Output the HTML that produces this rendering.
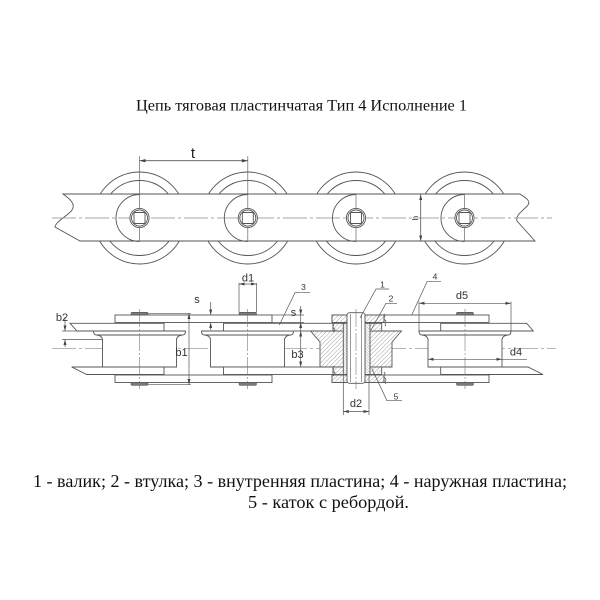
<!DOCTYPE html>
<html><head><meta charset="utf-8">
<style>html,body{margin:0;padding:0;background:#fff}svg{display:block}</style>
</head>
<body>
<svg width="600" height="600" viewBox="0 0 600 600" xmlns="http://www.w3.org/2000/svg">
<defs>
<pattern id="ha" patternUnits="userSpaceOnUse" width="3" height="3" patternTransform="rotate(45)"><rect width="3" height="3" fill="#fff"/><line x1="0" y1="0" x2="0" y2="3" stroke="#8a8a8a" stroke-width="0.8"/></pattern>
<pattern id="hb" patternUnits="userSpaceOnUse" width="2" height="2" patternTransform="rotate(-45)"><rect width="2" height="2" fill="#fff"/><line x1="0" y1="0" x2="0" y2="2" stroke="#8a8a8a" stroke-width="0.7"/></pattern>
</defs>
<rect width="600" height="600" fill="#fff"/>

<!-- Title -->
<text x="136" y="110.5" font-family="'Liberation Serif', 'Noto Serif CJK SC', serif" font-size="16" textLength="331" lengthAdjust="spacingAndGlyphs" fill="#111">Цепь тяговая пластинчатая Тип 4 Исполнение 1</text>

<!-- ============ TOP VIEW ============ -->
<g fill="none" stroke="#555" stroke-width="0.9">
  <circle cx="139.5" cy="218" r="46"/><circle cx="139.5" cy="218" r="37.5"/>
  <circle cx="247.8" cy="218" r="46"/><circle cx="247.8" cy="218" r="37.5"/>
  <circle cx="356" cy="218" r="46"/><circle cx="356" cy="218" r="37.5"/>
  <circle cx="464.5" cy="218" r="46"/><circle cx="464.5" cy="218" r="37.5"/>
  <path fill="#fff" d="M63,194 H520 C526,198 531,201 528,205 C524,210 515,215 517,221 L535,241 H80 L55,227 C56,221 69,215 72,210 C76,204 70,199 63,194 Z"/>
</g>
<line x1="52" y1="218" x2="552" y2="218" stroke="#8a8a8a" stroke-width="0.7" stroke-dasharray="24,3,3,3"/>
<g fill="none" stroke="#666" stroke-width="0.7">
  <line x1="139.5" y1="156" x2="139.5" y2="241"/>
  <line x1="247.8" y1="156" x2="247.8" y2="241"/>
  <line x1="356" y1="194" x2="356" y2="241"/>
  <line x1="464.5" y1="194" x2="464.5" y2="241"/>
</g>
<g fill="none" stroke="#555" stroke-width="0.9">
  <path d="M139.5,194.5 A23.5,23.5 0 0 0 139.5,241.5"/>
  <path d="M247.8,194.5 A23.5,23.5 0 0 0 247.8,241.5"/>
  <path d="M356,194.5 A23.5,23.5 0 0 0 356,241.5"/>
  <path d="M464.5,194.5 A23.5,23.5 0 0 0 464.5,241.5"/>
</g>
<g fill="#fff" stroke="#555" stroke-width="0.9">
  <circle cx="139.5" cy="218" r="9.6"/><circle cx="139.5" cy="218" r="8" fill="none"/><rect x="134" y="212.5" width="11" height="11" rx="1" fill="none"/>
  <circle cx="247.8" cy="218" r="9.6"/><circle cx="247.8" cy="218" r="8" fill="none"/><rect x="242.3" y="212.5" width="11" height="11" rx="1" fill="none"/>
  <circle cx="356" cy="218" r="9.6"/><circle cx="356" cy="218" r="8" fill="none"/><rect x="350.5" y="212.5" width="11" height="11" rx="1" fill="none"/>
  <circle cx="464.5" cy="218" r="9.6"/><circle cx="464.5" cy="218" r="8" fill="none"/><rect x="459" y="212.5" width="11" height="11" rx="1" fill="none"/>
</g>
<!-- t dimension -->
<line x1="139.5" y1="160.7" x2="247.8" y2="160.7" stroke="#555" stroke-width="0.8"/>
<polygon points="139.5,160.7 145.5,159 145.5,162.4" fill="#444"/>
<polygon points="247.8,160.7 241.8,159 241.8,162.4" fill="#444"/>
<text x="193" y="158" text-anchor="middle" font-family="'Liberation Sans', sans-serif" font-size="15" fill="#222">t</text>
<!-- h dimension -->
<line x1="420.7" y1="194.5" x2="420.7" y2="241" stroke="#555" stroke-width="0.8"/>
<polygon points="420.7,194.5 419.2,200 422.2,200" fill="#444"/>
<polygon points="420.7,241 419.2,235.5 422.2,235.5" fill="#444"/>
<text transform="translate(418,218) rotate(-90)" text-anchor="middle" font-family="'Liberation Sans', sans-serif" font-size="8" fill="#333">h</text>

<!-- ============ BOTTOM VIEW ============ -->
<line x1="52" y1="348.3" x2="556" y2="348.3" stroke="#8a8a8a" stroke-width="0.7" stroke-dasharray="24,3,3,3"/>

<g fill="#fff" stroke="#555" stroke-width="0.9">
  <path d="M93.5,331 H185.5 Q185.5,335 182.5,335 Q177.5,335.5 176.5,339 V367 H102.5 V339 Q101.5,335.5 96.5,335 Q93.5,335 93.5,331 Z"/>
  <line x1="96.5" y1="335" x2="182.5" y2="335"/>
  <path d="M201.5,331 H293.5 Q293.5,335 290.5,335 Q285.5,335.5 284.5,339 V367 H210.5 V339 Q209.5,335.5 204.5,335 Q201.5,335 201.5,331 Z"/>
  <line x1="204.5" y1="335" x2="290.5" y2="335"/>
  <path d="M419,331 H511 Q511,335 508,335 Q503,335.5 502,339 V367 H428 V339 Q427,335.5 422,335 Q419,335 419,331 Z"/>
  <line x1="422" y1="335" x2="508" y2="335"/>

  <path d="M70,323.3 H164 V331 H77 Z"/>
  <path d="M71.7,367 H164 V374.5 H86.7 Z"/>
  <rect x="223.5" y="323.3" width="109.5" height="7.7"/>
  <rect x="223.5" y="367" width="109.5" height="7.5"/>
  <path d="M440.7,323.3 H526.7 L533.3,331 H440.7 Z"/>
  <path d="M440.7,367 H528 L543,374.5 H440.7 Z"/>

  <rect x="115" y="315" width="157" height="7.5"/>
  <rect x="115" y="375" width="157" height="7.5"/>
  <rect x="332" y="315" width="157" height="7.5"/>
  <rect x="332" y="375" width="157" height="7.5"/>
</g>

<g stroke="#777" stroke-width="0.6" stroke-dasharray="18,2,2,2">
  <line x1="139.5" y1="309" x2="139.5" y2="389"/>
  <line x1="247.5" y1="309" x2="247.5" y2="389"/>
  <line x1="465" y1="309" x2="465" y2="389"/>
</g>

<g fill="#7a7a7a" stroke="#555" stroke-width="0.6">
  <rect x="131" y="312.3" width="17" height="2.8" rx="1.3"/>
  <rect x="131" y="382.5" width="17" height="2.8" rx="1.3"/>
  <rect x="239" y="312.3" width="17.5" height="2.8" rx="1.3"/>
  <rect x="239" y="382.5" width="17.5" height="2.8" rx="1.3"/>
  <rect x="456.5" y="312.3" width="17" height="2.8" rx="1.3"/>
  <rect x="456.5" y="382.5" width="17" height="2.8" rx="1.3"/>
</g>

<!-- Section at roller 3 -->
<g stroke="#555" stroke-width="0.9">
  <path fill="url(#ha)" d="M310.5,331 H401.5 L392,342 V367 H320 V342 Z"/>
  <rect x="332" y="315" width="52" height="7.5" fill="url(#ha)"/>
  <rect x="332" y="375" width="52" height="7.5" fill="url(#ha)"/>
  <rect x="333" y="323.3" width="48.7" height="7.7" fill="url(#ha)"/>
  <rect x="333" y="367" width="48.7" height="7.5" fill="url(#ha)"/>
  <rect x="343.3" y="323.3" width="3.7" height="51.2" fill="url(#hb)"/>
  <rect x="365" y="323.3" width="5" height="51.2" fill="url(#hb)"/>
  <rect x="347" y="312.7" width="18" height="70.6" rx="2.5" fill="#fff"/>
  <line x1="350.3" y1="314" x2="350.3" y2="382" stroke-width="0.6"/>
  <line x1="361.7" y1="314" x2="361.7" y2="382" stroke-width="0.6"/>
</g>
<line x1="356" y1="309" x2="356" y2="389" stroke="#777" stroke-width="0.6" stroke-dasharray="18,2,2,2"/>
<g fill="#fff" stroke="#555" stroke-width="0.8">
  <path d="M384,314 C387,316 382,318 385,320 C388,322 383,324 386,326"/>
  <path d="M384,372 C387,374 382,376 385,378 C388,380 383,382 386,384"/>
  <path d="M333,322.5 C336,324.5 331,326.5 334,328.5 C337,330 332,331 334,332"/>
  <path d="M333,366 C336,368 331,370 334,372 C337,374 332,375 334,376"/>
</g>

<!-- Dimensions -->
<g stroke="#555" stroke-width="0.7" fill="none">
  <line x1="239" y1="283" x2="239" y2="312.3"/>
  <line x1="256.5" y1="283" x2="256.5" y2="312.3"/>
  <line x1="239" y1="284" x2="256.5" y2="284"/>
  <line x1="210.7" y1="302" x2="210.7" y2="315"/>
  <line x1="210.7" y1="322.5" x2="210.7" y2="330"/>
  <line x1="189" y1="313.5" x2="189" y2="384.5"/>
  <line x1="148" y1="313.3" x2="191" y2="313.3"/>
  <line x1="148" y1="384.7" x2="191" y2="384.7"/>
  <line x1="65" y1="317" x2="65" y2="331"/>
  <line x1="65" y1="339.5" x2="65" y2="347"/>
  <line x1="62" y1="331" x2="93.5" y2="331"/>
  <line x1="62" y1="339.5" x2="102.5" y2="339.5"/>
  <line x1="272" y1="315" x2="304" y2="315"/>
  <line x1="272" y1="322.5" x2="304" y2="322.5"/>
  <line x1="300.7" y1="306" x2="300.7" y2="367.5"/>
  <line x1="343.3" y1="375" x2="343.3" y2="415"/>
  <line x1="369" y1="375" x2="369" y2="415"/>
  <line x1="343.3" y1="411.5" x2="369" y2="411.5"/>
  <line x1="428" y1="359.3" x2="527" y2="359.3"/>
  <line x1="419" y1="301.5" x2="419" y2="331"/>
  <line x1="511" y1="301.5" x2="511" y2="331"/>
  <line x1="419" y1="303.3" x2="511" y2="303.3"/>
  <path d="M389,289 H376 L360,318"/>
  <path d="M397,303.3 H386 L371,330"/>
  <path d="M310,292.7 H295 L279.3,325"/>
  <path d="M441,281.7 H427 L411.7,315"/>
  <path d="M402,400.7 H387 L371.7,368.3"/>
</g>
<g fill="#444">
  <polygon points="239,284 244.5,282.5 244.5,285.5"/>
  <polygon points="256.5,284 251,282.5 251,285.5"/>
  <polygon points="210.7,315 209.2,309.5 212.2,309.5"/>
  <polygon points="210.7,322.5 209.2,328 212.2,328"/>
  <polygon points="189,313.5 187.5,319 190.5,319"/>
  <polygon points="189,384.5 187.5,379 190.5,379"/>
  <polygon points="65,331 63.5,325.5 66.5,325.5"/>
  <polygon points="65,339.5 63.5,345 66.5,345"/>
  <polygon points="300.7,315 299.2,309.5 302.2,309.5"/>
  <polygon points="300.7,322.5 299.2,328 302.2,328"/>
  <polygon points="300.7,331 299.2,336.5 302.2,336.5"/>
  <polygon points="300.7,367 299.2,361.5 302.2,361.5"/>
  <polygon points="343.3,411.5 348.8,410 348.8,413"/>
  <polygon points="369,411.5 363.5,410 363.5,413"/>
  <polygon points="428,359.3 433.5,357.8 433.5,360.8"/>
  <polygon points="502,359.3 496.5,357.8 496.5,360.8"/>
  <polygon points="419,303.3 424.5,301.8 424.5,304.8"/>
  <polygon points="511,303.3 505.5,301.8 505.5,304.8"/>
</g>

<g font-family="'Liberation Sans', sans-serif" font-size="11" fill="#333" text-anchor="middle">
  <text x="248" y="281.5">d1</text>
  <text x="197" y="303">s</text>
  <text x="181.5" y="356">b1</text>
  <text x="62" y="321">b2</text>
  <text x="293.5" y="316">s</text>
  <text x="297.5" y="358">b3</text>
  <text x="356" y="407">d2</text>
  <text x="516" y="355.5">d4</text>
  <text x="462" y="299">d5</text>
</g>
<g font-family="'Liberation Sans', sans-serif" font-size="8.5" fill="#333" text-anchor="middle">
  <text x="382.5" y="287.5">1</text>
  <text x="391" y="301.5">2</text>
  <text x="303.5" y="290">3</text>
  <text x="435" y="279.5">4</text>
  <text x="396" y="399.5">5</text>
</g>

<!-- Caption -->
<text x="33" y="487" font-family="'Liberation Serif', 'Noto Serif CJK SC', serif" font-size="17.5" fill="#111" textLength="534" lengthAdjust="spacingAndGlyphs">1 - валик; 2 - втулка; 3 - внутренняя пластина; 4 - наружная пластина;</text>
<text x="248" y="508" font-family="'Liberation Serif', 'Noto Serif CJK SC', serif" font-size="17.5" fill="#111" textLength="161" lengthAdjust="spacingAndGlyphs">5 - каток с ребордой.</text>
</svg>
</body></html>
